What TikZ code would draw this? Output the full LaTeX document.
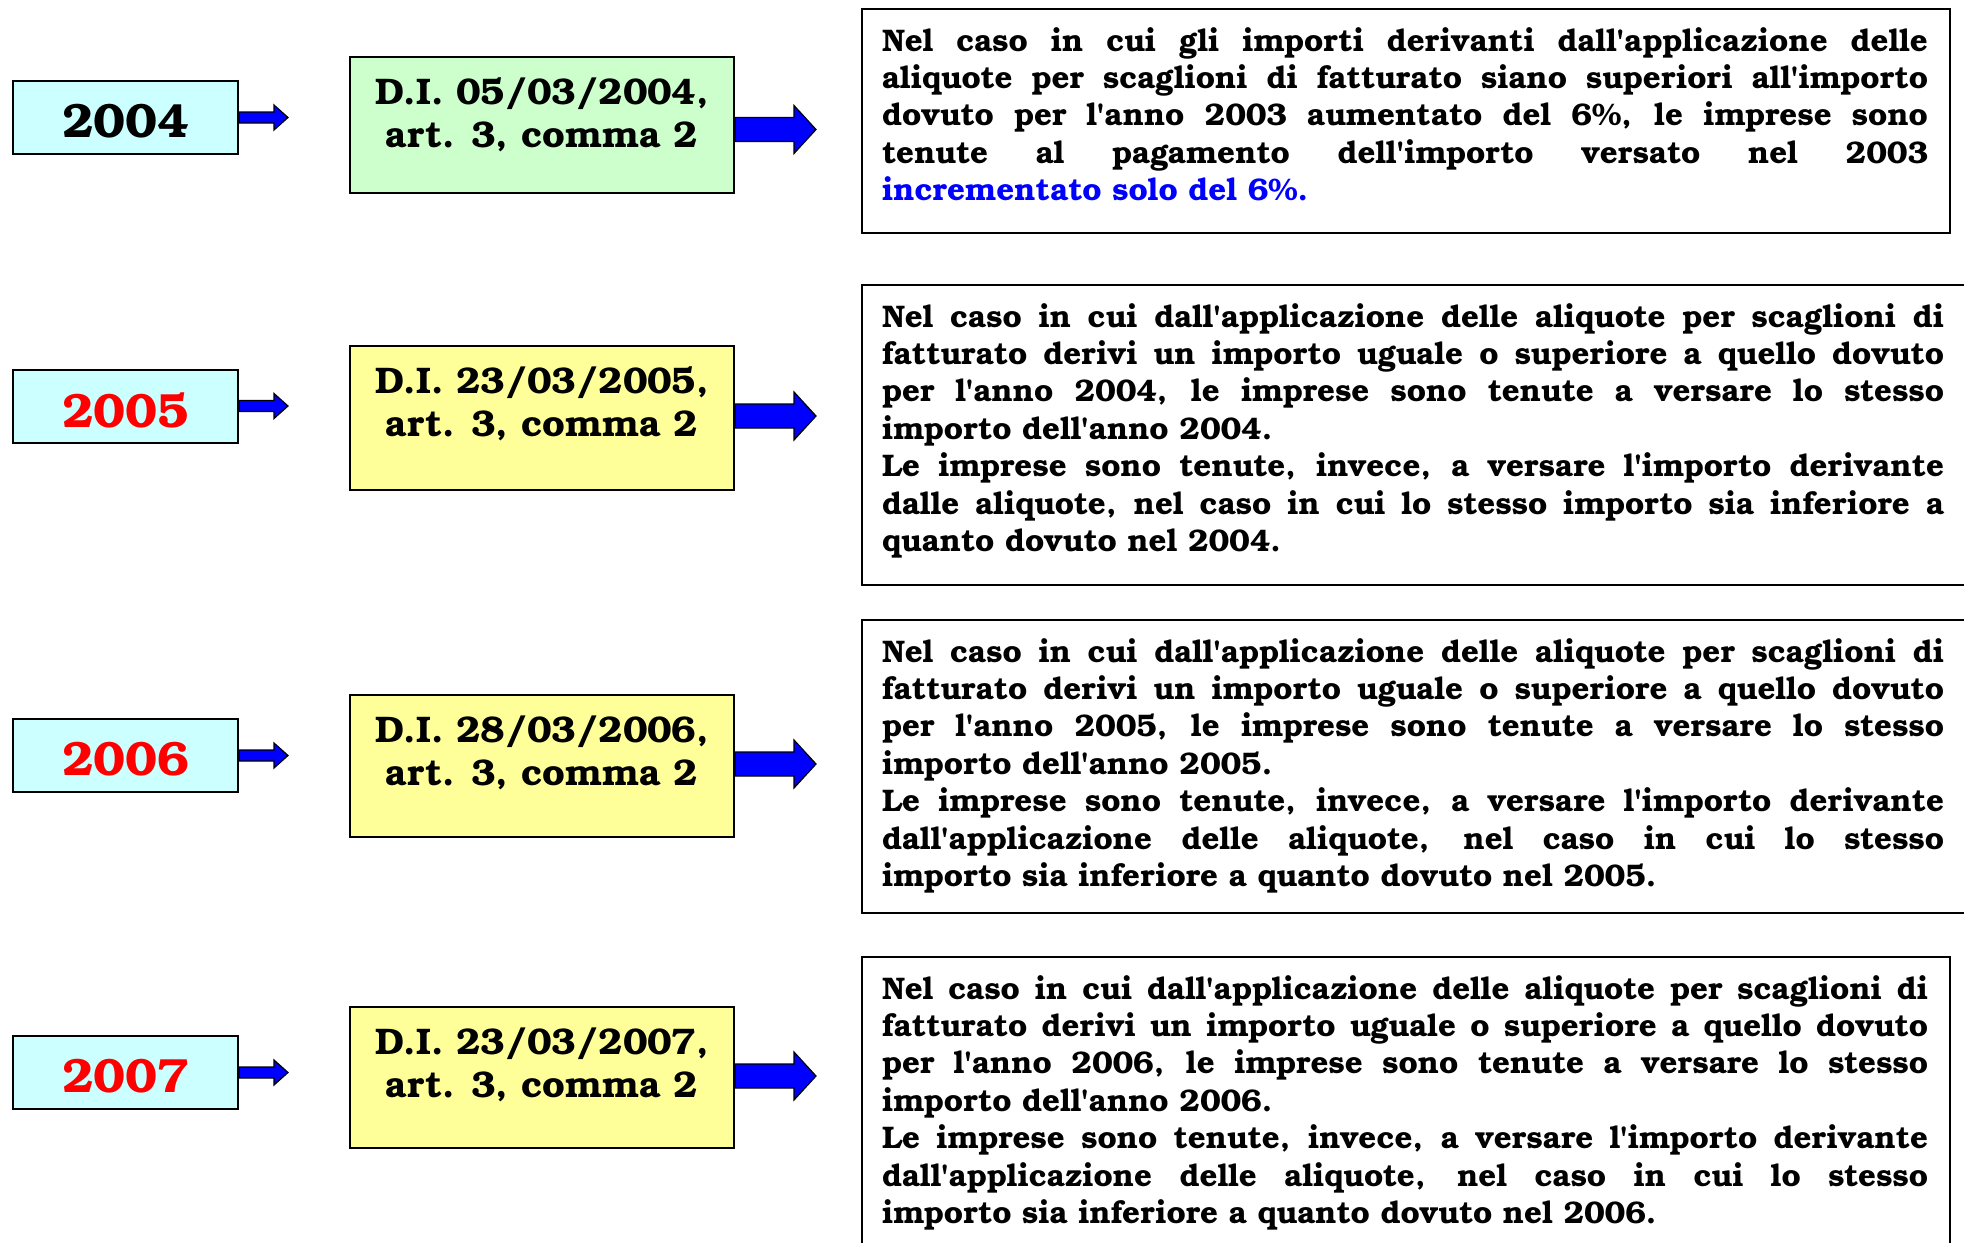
\documentclass[tikz,border=0pt]{standalone}
\usepackage{fontspec}
\newfontfamily\bk[Extension=.otf,UprightFont=texgyrebonum-regular,BoldFont=texgyrebonum-bold,Ligatures=TeXOff]{texgyrebonum}
\usetikzlibrary{calc}
\definecolor{yearfill}{HTML}{CCFFFF}
\definecolor{greenfill}{HTML}{CCFFCC}
\definecolor{yellowfill}{HTML}{FFFF99}
\definecolor{myred}{HTML}{FF0000}
\definecolor{myblue}{HTML}{0000FF}
\newcommand{\yeartxt}[1]{\raisebox{-1.9pt}[\height][0pt]{#1}}
\tikzset{
  yearbox/.style={draw=black, line width=1pt, fill=yearfill, minimum width=112.5pt, minimum height=36.5pt, inner sep=0pt,
    font=\bk\bfseries\fontsize{24}{28}\selectfont},
  dibox/.style={draw=black, line width=1pt, minimum width=192pt, inner sep=0pt},
  ditext/.style={anchor=north, align=center, inner sep=0pt, font=\bk\bfseries\fontsize{18.5}{21.5}\selectfont},
  textbox/.style={draw=black, line width=1.3pt, fill=white, inner sep=0pt},
  bodytext/.style={anchor=north west, inner sep=0pt, align=justify,
    font=\bk\bfseries\fontsize{15.6}{18.7}\selectfont},
  arrowfill/.style={draw=black, line width=0.6pt, fill=myblue, line join=miter},
  smallarrow/.pic={\path[arrowfill] (0,-5.5) -- (35,-5.5) -- (35,-12.5) -- (49,0) -- (35,12.5) -- (35,5.5) -- (0,5.5) -- cycle;},
  bigarrow/.pic={\path[arrowfill] (0,-12) -- (59,-12) -- (59,-24) -- (81,0) -- (59,24) -- (59,12) -- (0,12) -- cycle;}
}
\begin{document}
\begin{tikzpicture}[x=0.5pt,y=-0.5pt]
\useasboundingbox (0,0) rectangle (1964,1242);
\clip (0,0) rectangle (1964,1242);

% year boxes
\node[yearbox] (y04) at (125.5,117.5) {\yeartxt{2004}};
\node[yearbox, text=myred] (y05) at (125.5,406) {\yeartxt{2005}};
\node[yearbox, text=myred] (y06) at (125.5,755.5) {\yeartxt{2006}};
\node[yearbox, text=myred] (y07) at (125.5,1072.5) {\yeartxt{2007}};

% decree boxes
\node[dibox, fill=greenfill, minimum height=68pt] (d04) at (542,125) {};
\node[dibox, fill=yellowfill, minimum height=72pt] (d05) at (542,418) {};
\node[dibox, fill=yellowfill, minimum height=71pt] (d06) at (542,766) {};
\node[dibox, fill=yellowfill, minimum height=70.5pt] (d07) at (542,1077.5) {};
\node[ditext] (d04t) at ($(d04.north)+(0,21)$) {D.I. 05/03/2004,\\art. 3, comma 2};
\node[ditext] (d05t) at ($(d05.north)+(0,21)$) {D.I. 23/03/2005,\\art. 3, comma 2};
\node[ditext] (d06t) at ($(d06.north)+(0,21)$) {D.I. 28/03/2006,\\art. 3, comma 2};
\node[ditext] (d07t) at ($(d07.north)+(0,21)$) {D.I. 23/03/2007,\\art. 3, comma 2};

% small arrows
\pic at (y04.east) {smallarrow};
\pic at (y05.east) {smallarrow};
\pic at (y06.east) {smallarrow};
\pic at (y07.east) {smallarrow};

% big arrows
\pic at ($(d04.east)+(0,4.5)$) {bigarrow};
\pic at ($(d05.east)+(0,-2)$) {bigarrow};
\pic at ($(d06.east)+(0,-2)$) {bigarrow};
\pic at ($(d07.east)+(0,-1.5)$) {bigarrow};

% text boxes
\node[textbox, minimum width=544pt, minimum height=112pt] (t04) at (1406,121) {};
\node[textbox, minimum width=569pt, minimum height=150pt] (t05) at (1431,435) {};
\node[textbox, minimum width=569pt, minimum height=146.5pt] (t06) at (1431,766.5) {};
\node[textbox, minimum width=544pt, minimum height=171.5pt] (t07) at (1406,1128.5) {};

\node[bodytext, text width=523pt] (t04t) at ($(t04.north west)+(21,19)$) {%
Nel caso in cui gli importi derivanti dall'applicazione delle\linebreak
aliquote per scaglioni di fatturato siano superiori all'importo\linebreak
dovuto per l'anno 2003 aumentato del 6\%, le imprese sono\linebreak
tenute al pagamento dell'importo versato nel 2003\linebreak
\textcolor{myblue}{incrementato solo del 6\%.}};

\node[bodytext, text width=531pt] (t05t) at ($(t05.north west)+(21,19)$) {%
Nel caso in cui dall'applicazione delle aliquote per scaglioni di\linebreak
fatturato derivi un importo uguale o superiore a quello dovuto\linebreak
per l'anno 2004, le imprese sono tenute a versare lo stesso\linebreak
importo dell'anno 2004.\par
Le imprese sono tenute, invece, a versare l'importo derivante\linebreak
dalle aliquote, nel caso in cui lo stesso importo sia inferiore a\linebreak
quanto dovuto nel 2004.};

\node[bodytext, text width=531pt] (t06t) at ($(t06.north west)+(21,19)$) {%
Nel caso in cui dall'applicazione delle aliquote per scaglioni di\linebreak
fatturato derivi un importo uguale o superiore a quello dovuto\linebreak
per l'anno 2005, le imprese sono tenute a versare lo stesso\linebreak
importo dell'anno 2005.\par
Le imprese sono tenute, invece, a versare l'importo derivante\linebreak
dall'applicazione delle aliquote, nel caso in cui lo stesso\linebreak
importo sia inferiore a quanto dovuto nel 2005.};

\node[bodytext, text width=523pt] (t07t) at ($(t07.north west)+(21,19)$) {%
Nel caso in cui dall'applicazione delle aliquote per scaglioni di\linebreak
fatturato derivi un importo uguale o superiore a quello dovuto\linebreak
per l'anno 2006, le imprese sono tenute a versare lo stesso\linebreak
importo dell'anno 2006.\par
Le imprese sono tenute, invece, a versare l'importo derivante\linebreak
dall'applicazione delle aliquote, nel caso in cui lo stesso\linebreak
importo sia inferiore a quanto dovuto nel 2006.};
\end{tikzpicture}
\end{document}
